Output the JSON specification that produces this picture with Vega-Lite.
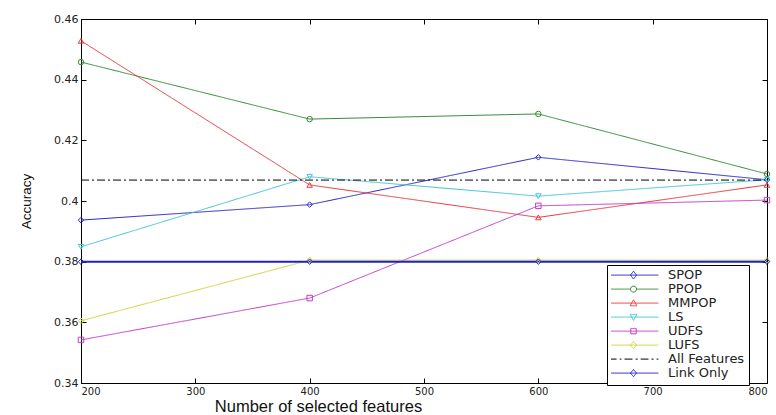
{
  "$schema": "https://vega.github.io/schema/vega-lite/v6.json",
  "width": 686,
  "height": 364,
  "autosize": {"type": "none"},
  "padding": {"left": 81, "top": 19, "right": 9, "bottom": 32},
  "background": "white",
  "config": {
    "font": "Liberation Sans",
    "view": {"stroke": "black", "strokeWidth": 1},
    "axis": {
      "grid": false,
      "domainColor": "black",
      "tickColor": "black",
      "labelColor": "#222222",
      "labelFont": "DejaVu Sans",
      "labelFontSize": 10,
      "titleFont": "Liberation Sans",
      "titleFontWeight": "normal",
      "titleColor": "#111111"
    },
    "legend": {
      "orient": "none",
      "legendX": 526,
      "legendY": 246,
      "strokeColor": "black",
      "fillColor": "white",
      "padding": 4,
      "symbolSize": 36,
      "symbolOffset": 16,
      "labelOffset": 28,
      "clipHeight": 12.2,
      "symbolStrokeWidth": 1,
      "symbolOpacity": 1,
      "labelFont": "DejaVu Sans",
      "labelFontSize": 13,
      "labelColor": "#222222",
      "rowPadding": -6
    }
  },
  "datasets": {
    "acc": [
      {"n": 200, "acc": 0.3937, "method": "SPOP"},
      {"n": 400, "acc": 0.3988, "method": "SPOP"},
      {"n": 600, "acc": 0.4144, "method": "SPOP"},
      {"n": 800, "acc": 0.407, "method": "SPOP"},
      {"n": 200, "acc": 0.4458, "method": "PPOP"},
      {"n": 400, "acc": 0.427, "method": "PPOP"},
      {"n": 600, "acc": 0.4287, "method": "PPOP"},
      {"n": 800, "acc": 0.4089, "method": "PPOP"},
      {"n": 200, "acc": 0.4528, "method": "MMPOP"},
      {"n": 400, "acc": 0.4053, "method": "MMPOP"},
      {"n": 600, "acc": 0.3946, "method": "MMPOP"},
      {"n": 800, "acc": 0.4053, "method": "MMPOP"},
      {"n": 200, "acc": 0.3849, "method": "LS"},
      {"n": 400, "acc": 0.408, "method": "LS"},
      {"n": 600, "acc": 0.4016, "method": "LS"},
      {"n": 800, "acc": 0.407, "method": "LS"},
      {"n": 200, "acc": 0.3542, "method": "UDFS"},
      {"n": 400, "acc": 0.368, "method": "UDFS"},
      {"n": 600, "acc": 0.3984, "method": "UDFS"},
      {"n": 800, "acc": 0.4003, "method": "UDFS"},
      {"n": 200, "acc": 0.3605, "method": "LUFS"},
      {"n": 400, "acc": 0.3805, "method": "LUFS"},
      {"n": 600, "acc": 0.3805, "method": "LUFS"},
      {"n": 800, "acc": 0.3805, "method": "LUFS"},
      {"n": 200, "acc": 0.4069, "method": "All Features"},
      {"n": 800, "acc": 0.4069, "method": "All Features"},
      {"n": 200, "acc": 0.38, "method": "Link Only"},
      {"n": 400, "acc": 0.38, "method": "Link Only"},
      {"n": 600, "acc": 0.38, "method": "Link Only"},
      {"n": 800, "acc": 0.38, "method": "Link Only"}
    ]
  },
  "data": {"name": "acc"},
  "layer": [
    {
      "mark": {"type": "point", "filled": false, "opacity": 0},
      "encoding": {
        "x": {"field": "n", "type": "quantitative", "scale": {"domain": [200, 800], "nice": false, "zero": false}, "axis": null},
        "y": {"field": "acc", "type": "quantitative", "scale": {"domain": [0.34, 0.46], "nice": false, "zero": false}, "axis": null},
        "color": {
          "field": "method", "type": "nominal",
          "scale": {
            "domain": ["SPOP", "PPOP", "MMPOP", "LS", "UDFS", "LUFS", "All Features", "Link Only"],
            "range": ["#2424d0", "#348a34", "#e8383c", "#40c4d8", "#c43cc8", "#d2d23c", "#000000", "#2020c8"]
          },
          "legend": {"title": null}
        },
        "shape": {
          "field": "method", "type": "nominal",
          "scale": {
            "domain": ["SPOP", "PPOP", "MMPOP", "LS", "UDFS", "LUFS", "All Features", "Link Only"],
            "range": [
              "M-8.3,0H8.3M0,-1.3L1,0L0,1.3L-1,0Z",
              "M-8.3,0H-1A1,1 0 1,1 1,0A1,1 0 1,1 -1,0M1,0H8.3",
              "M-8.3,0H8.3M-1.1,0.9L0,-1.1L1.1,0.9Z",
              "M-8.3,0H8.3M-1.1,-0.9L0,1.1L1.1,-0.9Z",
              "M-8.3,0H8.3M-0.9,-0.9H0.9V0.9H-0.9Z",
              "M-8.3,0H8.3M0,-1.2L1,0L0,1.2L-1,0Z",
              "M-8.3,0H-5.6M-4.6,0H-4M-3,0H-0.3M0.7,0H1.4M2.4,0H5M6,0H6.7M7.7,0H8.3",
              "M-8.3,0H8.3M0,-1.2L1,0L0,1.2L-1,0Z"
            ]
          },
          "legend": {"title": null}
        }
      }
    },
    {
      "transform": [{"filter": "datum.method !== 'Link Only'"}],
      "mark": {"type": "line", "strokeWidth": 1},
      "encoding": {
        "x": {
          "field": "n", "type": "quantitative",
          "axis": {
            "values": [200, 300, 400, 500, 600, 700, 800],
            "format": "d",
            "ticks": false,
            "labelPadding": 3,
            "title": "Number of selected features",
            "titleFontSize": 16.5,
            "titleX": 237,
            "titlePadding": 2
          }
        },
        "y": {
          "field": "acc", "type": "quantitative",
          "axis": {
            "values": [0.34, 0.36, 0.38, 0.4, 0.42, 0.44, 0.46],
            "format": ".2~f",
            "ticks": false,
            "labelPadding": 3,
            "labelFontSize": 11,
            "title": "Accuracy",
            "titleFontSize": 13.5,
            "titlePadding": 20
          }
        },
        "color": {"field": "method", "type": "nominal", "legend": null},
        "strokeDash": {
          "field": "method", "type": "nominal",
          "scale": {
            "domain": ["SPOP", "PPOP", "MMPOP", "LS", "UDFS", "LUFS", "All Features", "Link Only"],
            "range": [[1, 0], [1, 0], [1, 0], [1, 0], [1, 0], [1, 0], [8, 3, 2, 3], [1, 0]]
          },
          "legend": null
        }
      }
    },
    {
      "transform": [{"filter": "datum.method === 'Link Only'"}],
      "mark": {"type": "line", "strokeWidth": 2},
      "encoding": {
        "x": {
          "field": "n", "type": "quantitative",
          "axis": {
            "orient": "top",
            "values": [200, 300, 400, 500, 600, 700, 800],
            "labels": false, "domain": false, "offset": -5, "tickSize": 5, "title": null
          }
        },
        "y": {
          "field": "acc", "type": "quantitative",
          "axis": {
            "orient": "right",
            "values": [0.34, 0.36, 0.38, 0.4, 0.42, 0.44, 0.46],
            "labels": false, "domain": false, "offset": -5, "tickSize": 5, "title": null
          }
        },
        "color": {"field": "method", "type": "nominal", "legend": null}
      }
    },
    {
      "transform": [{"filter": "datum.method === 'SPOP' || datum.method === 'LUFS' || datum.method === 'Link Only'"}],
      "mark": {"type": "point", "shape": "diamond", "filled": false, "size": 30, "strokeWidth": 1, "opacity": 1},
      "encoding": {
        "x": {
          "field": "n", "type": "quantitative",
          "axis": {
            "orient": "bottom",
            "values": [200, 300, 400, 500, 600, 700, 800],
            "labels": false, "domain": false, "offset": -5, "tickSize": 5, "title": null
          }
        },
        "y": {
          "field": "acc", "type": "quantitative",
          "axis": {
            "orient": "left",
            "values": [0.34, 0.36, 0.38, 0.4, 0.42, 0.44, 0.46],
            "labels": false, "domain": false, "offset": -5, "tickSize": 5, "title": null
          }
        },
        "color": {"field": "method", "type": "nominal", "legend": null}
      }
    },
    {
      "transform": [{"filter": "datum.method === 'PPOP'"}],
      "mark": {"type": "point", "shape": "circle", "filled": false, "size": 30, "strokeWidth": 1, "opacity": 1},
      "encoding": {
        "x": {"field": "n", "type": "quantitative", "axis": null},
        "y": {"field": "acc", "type": "quantitative", "axis": null},
        "color": {"field": "method", "type": "nominal", "legend": null}
      }
    },
    {
      "transform": [{"filter": "datum.method === 'MMPOP'"}],
      "mark": {"type": "point", "shape": "triangle-up", "filled": false, "size": 30, "strokeWidth": 1, "opacity": 1},
      "encoding": {
        "x": {"field": "n", "type": "quantitative", "axis": null},
        "y": {"field": "acc", "type": "quantitative", "axis": null},
        "color": {"field": "method", "type": "nominal", "legend": null}
      }
    },
    {
      "transform": [{"filter": "datum.method === 'LS'"}],
      "mark": {"type": "point", "shape": "triangle-down", "filled": false, "size": 30, "strokeWidth": 1, "opacity": 1},
      "encoding": {
        "x": {"field": "n", "type": "quantitative", "axis": null},
        "y": {"field": "acc", "type": "quantitative", "axis": null},
        "color": {"field": "method", "type": "nominal", "legend": null}
      }
    },
    {
      "transform": [{"filter": "datum.method === 'UDFS'"}],
      "mark": {"type": "point", "shape": "square", "filled": false, "size": 30, "strokeWidth": 1, "opacity": 1},
      "encoding": {
        "x": {"field": "n", "type": "quantitative", "axis": null},
        "y": {"field": "acc", "type": "quantitative", "axis": null},
        "color": {"field": "method", "type": "nominal", "legend": null}
      }
    }
  ],
  "resolve": {"axis": {"x": "independent", "y": "independent"}}
}
